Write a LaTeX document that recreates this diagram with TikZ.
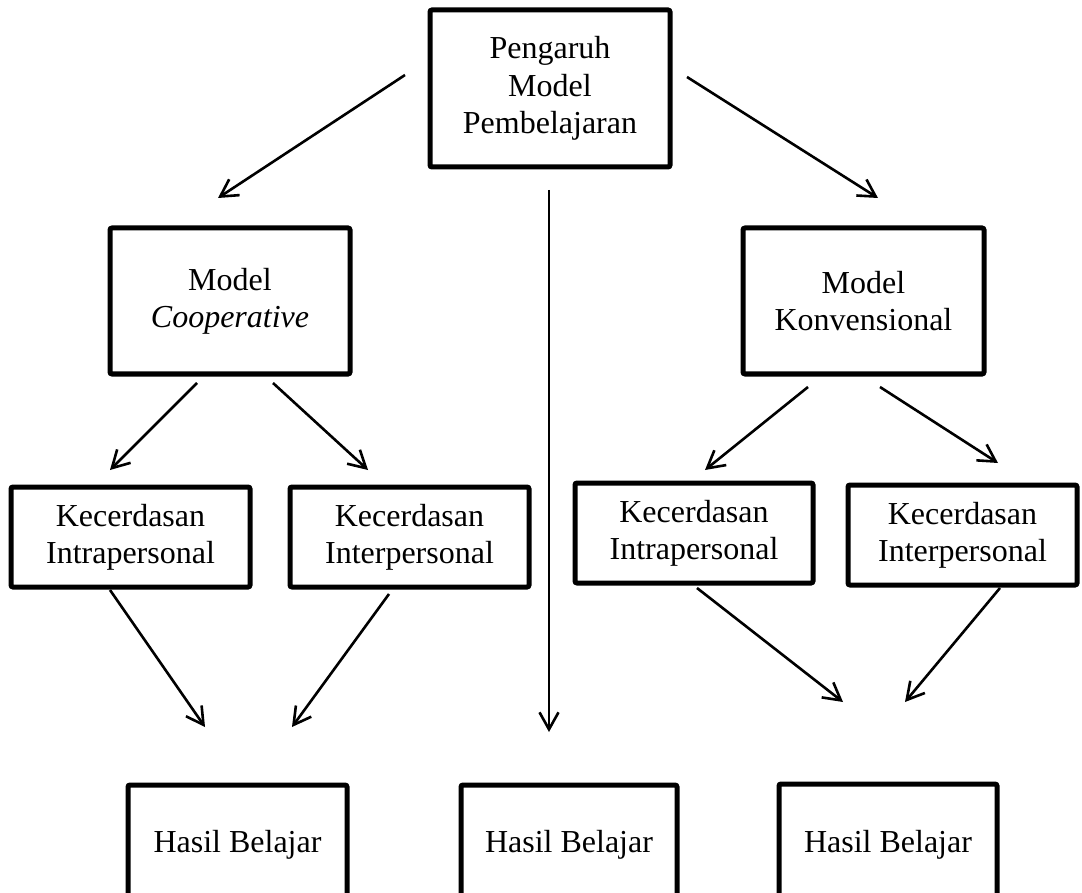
\documentclass[tikz,border=0pt]{standalone}
\usepackage{fontspec}
\setmainfont{Liberation Serif}
\usetikzlibrary{arrows.meta}
\begin{document}
\begin{tikzpicture}[x=0.5pt,y=-0.5pt,
  box/.style={draw,line width=2.5pt,rounded corners=1pt,align=center,inner sep=0pt,
    font=\fontsize{16}{18.6}\selectfont},
  conn/.style={line width=1.3pt,-{Straight Barb[length=8.5pt,width=9.5pt]}}]
\clip (0,0) rectangle (1082,893);
% boxes
\node[box,minimum width=120pt,minimum height=78.5pt] (top) at (550,88.5) {Pengaruh\\Model\\Pembelajaran};
\node[box,minimum width=120pt,minimum height=73pt] (coop) at (230,301) {Model\\\textit{Cooperative}};
\node[box,minimum width=120.5pt,minimum height=73pt] (konv) at (863.5,301) {Model\\Konvensional};
\node[box,minimum width=119.5pt,minimum height=50pt] (intraL) at (130.5,537) {Kecerdasan\\Intrapersonal};
\node[box,minimum width=119.5pt,minimum height=50pt] (interL) at (409.5,537) {Kecerdasan\\Interpersonal};
\node[box,minimum width=119pt,minimum height=50pt] (intraR) at (694,533) {Kecerdasan\\Intrapersonal};
\node[box,minimum width=114.5pt,minimum height=50pt] (interR) at (962.5,535) {Kecerdasan\\Interpersonal};
\node[box,minimum width=109.5pt,minimum height=60pt] (hasilL) at (237.5,845) {Hasil Belajar};
\node[box,minimum width=108pt,minimum height=60pt] (hasilM) at (569,845) {Hasil Belajar};
\node[box,minimum width=109pt,minimum height=61pt] (hasilR) at (888,845) {Hasil Belajar};
% arrow ends
\coordinate (t1s) at (405,75);  \coordinate (t1e) at (218,198);
\coordinate (t2s) at (687,77);  \coordinate (t2e) at (878,198);
\coordinate (t3s) at (549,190); \coordinate (t3e) at (549,732);
\coordinate (c1s) at (197,383); \coordinate (c1e) at (110,470);
\coordinate (c2s) at (273,383); \coordinate (c2e) at (368,470);
\coordinate (k1s) at (808,387); \coordinate (k1e) at (705,470);
\coordinate (k2s) at (880,387); \coordinate (k2e) at (998,463);
\coordinate (l1s) at (110,590); \coordinate (l1e) at (205,727);
\coordinate (l2s) at (389,594); \coordinate (l2e) at (292,727);
\coordinate (r1s) at (697,588); \coordinate (r1e) at (843,702);
\coordinate (r2s) at (1000,588); \coordinate (r2e) at (905,702);
% connectors
\draw[conn] (t1s) -- (t1e);
\draw[conn] (t2s) -- (t2e);
\draw[conn] (t3s) -- (t3e);
\draw[conn] (c1s) -- (c1e);
\draw[conn] (c2s) -- (c2e);
\draw[conn] (k1s) -- (k1e);
\draw[conn] (k2s) -- (k2e);
\draw[conn] (l1s) -- (l1e);
\draw[conn] (l2s) -- (l2e);
\draw[conn] (r1s) -- (r1e);
\draw[conn] (r2s) -- (r2e);
\end{tikzpicture}
\end{document}
